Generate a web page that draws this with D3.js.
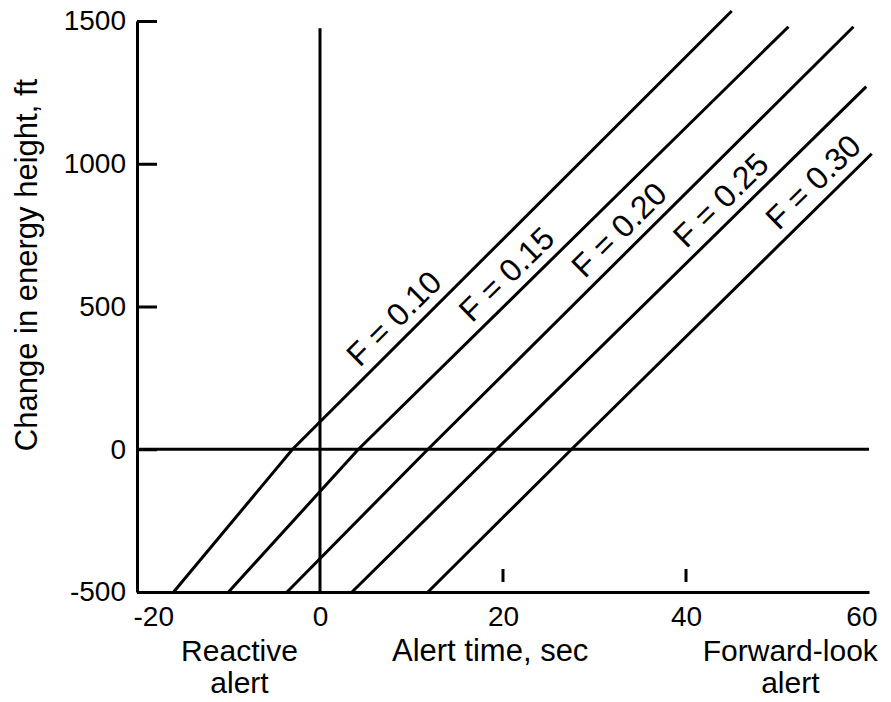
<!DOCTYPE html>
<html>
<head>
<meta charset="utf-8">
<script src="https://cdn.jsdelivr.net/npm/d3@7"></script>
<style>
    body { margin: 0; background: #fff; }
    svg text { font-family: "Liberation Sans", Arial, Helvetica, sans-serif; fill: #000; }
    .axis path, .axis line { stroke: #000; stroke-width: 3; }
    .axis text { font-size: 28px; }
    .curve { fill: none; stroke: #000; stroke-width: 3; }
    .title { font-size: 31px; }
    .flabel { font-size: 32px; }
</style>
</head>
<body>
<div id="chart"></div>
<script>
    // values
    var xTicks = [-20, 0, 20, 40, 60];
    var yTicks = [-500, 0, 500, 1000, 1500];
    var fValues = [0.10, 0.15, 0.20, 0.25, 0.30];
    var fNames = ["F = 0.10", "F = 0.15", "F = 0.20", "F = 0.25", "F = 0.30"];
    // alert time (sec) and energy height change (ft) along each F line
    var lineTimes = [
        [-16, -3, 45],
        [-10, 4.2, 51.2],
        [-3.6, 11.8, 58.3],
        [3.5, 19.3, 59.7],
        [11.8, 27.5, 60.3]
    ];
    var lineHeights = [
        [-500, 0, 1535],
        [-500, 0, 1480],
        [-500, 0, 1480],
        [-500, 0, 1270],
        [-500, 0, 1035]
    ];
    // where along each line (sec) its label sits
    var labelTimes = [9.7, 22, 34.3, 45.4, 55.5];
    var zeroLineTop = 1475;

    var width = 891,
        height = 702;

    var svg = d3.select("#chart").append("svg")
        .attr("width", width)
        .attr("height", height);

    var x = d3.scaleLinear()
        .domain([-20, 60])
        .range([137, 869]);

    var y = d3.scaleLinear()
        .domain([-500, 1500])
        .range([592, 21]);

    // plain hyphen minus, no thousands comma
    var fmt = function (d) { return String(d); };

    // y axis, ticks point into the plot
    var yAxis = d3.axisLeft(y)
        .tickValues(yTicks)
        .tickFormat(fmt)
        .tickSizeInner(-20)
        .tickSizeOuter(0)
        .tickPadding(11);

    svg.append("g")
        .attr("class", "y axis")
        .attr("transform", "translate(" + x(-20) + ",0)")
        .call(yAxis);

    // x axis, labels only; the marks at 20 and 40 sit off the line
    var xAxis = d3.axisBottom(x)
        .tickValues(xTicks)
        .tickFormat(fmt)
        .tickSize(0)
        .tickPadding(14);

    var gx = svg.append("g")
        .attr("class", "x axis")
        .attr("transform", "translate(0," + y(-500) + ")")
        .call(xAxis);

    gx.selectAll(".tick text")
        .attr("dx", function (d) {
            if (d == -20) return -4;
            if (d == 60) return 8;
            return 0;
        })
        .style("text-anchor", function (d) {
            if (d == -20) return "start";
            if (d == 60) return "end";
            return "middle";
        });

    svg.selectAll(".xmark")
        .data([20, 40])
        .enter().append("line")
        .attr("class", "xmark")
        .attr("x1", function (d) { return x(d); })
        .attr("x2", function (d) { return x(d); })
        .attr("y1", y(-500) - 23)
        .attr("y2", y(-500) - 10)
        .attr("stroke", "#000")
        .attr("stroke-width", 3);

    // reference lines at t = 0 and dH = 0
    svg.append("line")
        .attr("class", "curve")
        .attr("x1", x(0)).attr("x2", x(0))
        .attr("y1", y(-500)).attr("y2", y(zeroLineTop));

    svg.append("line")
        .attr("class", "curve")
        .attr("x1", x(-20)).attr("x2", x(60))
        .attr("y1", y(0)).attr("y2", y(0));

    var line = d3.line()
        .x(function (d) { return x(d[0]); })
        .y(function (d) { return y(d[1]); });

    var series = fValues.map(function (f, i) {
        return {
            f: f,
            name: fNames[i],
            pts: lineTimes[i].map(function (t, j) { return [t, lineHeights[i][j]]; }),
            at: labelTimes[i]
        };
    });

    svg.selectAll(".fline")
        .data(series)
        .enter().append("path")
        .attr("class", "curve fline")
        .attr("d", function (d) { return line(d.pts); });

    // label sits just above its line, turned to the line's slope
    function labelPos(d) {
        var p = d.pts, k = p.length - 2;
        for (var j = 0; j < p.length - 1; j++) {
            if (d.at <= p[j + 1][0]) { k = j; break; }
        }
        var t = (d.at - p[k][0]) / (p[k + 1][0] - p[k][0]);
        var hv = p[k][1] + t * (p[k + 1][1] - p[k][1]);
        var dx = x(p[k + 1][0]) - x(p[k][0]),
            dy = y(p[k + 1][1]) - y(p[k][1]);
        var ang = Math.atan2(dy, dx) * 180 / Math.PI;
        return "translate(" + x(d.at) + "," + y(hv) + ") rotate(" + ang + ")";
    }

    svg.selectAll(".flabel")
        .data(series)
        .enter().append("text")
        .attr("class", "flabel")
        .attr("transform", labelPos)
        .attr("y", -10)
        .style("text-anchor", "middle")
        .text(function (d) { return d.name; });

    // axis titles
    svg.append("text")
        .attr("class", "title")
        .attr("transform", "translate(37," + 265 + ") rotate(-90)")
        .style("text-anchor", "middle")
        .text("Change in energy height, ft");

    var titles = [
        { t: -8.8, lines: ["Reactive", "alert"] },
        { t: 18.6, lines: ["Alert time, sec"] },
        { t: 51.4, lines: ["Forward-look", "alert"] }
    ];

    // one text element per row so the two rows stay apart
    titles.forEach(function (d) {
        d.lines.forEach(function (s, i) {
            svg.append("text")
                .attr("class", "title")
                .attr("x", x(d.t))
                .attr("y", 661 + i * 32)
                .style("font-size", d.lines.length > 1 ? "30px" : null)
                .style("text-anchor", "middle")
                .text(s);
        });
    });
</script>
</body>
</html>
